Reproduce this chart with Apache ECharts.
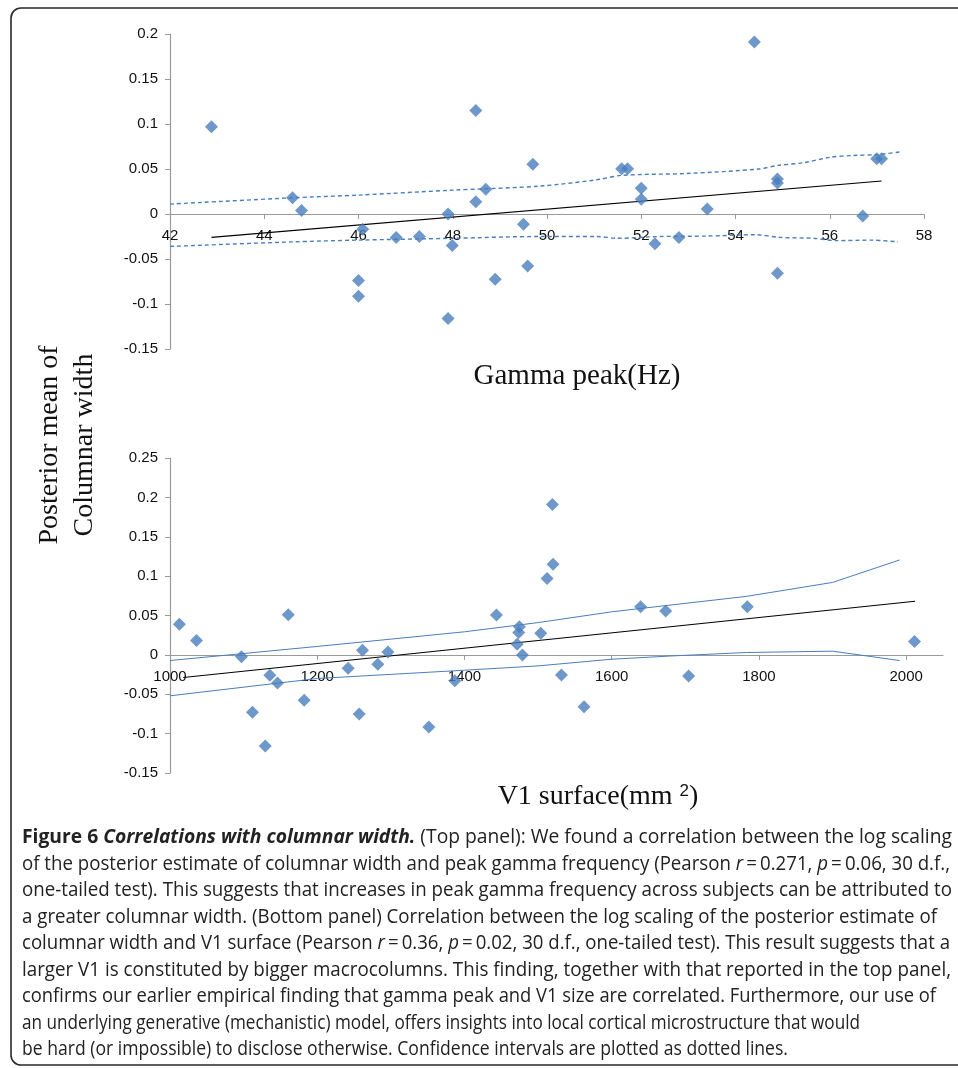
<!DOCTYPE html>
<html><head><meta charset="utf-8">
<script src="https://cdn.jsdelivr.net/npm/echarts@6/dist/echarts.min.js"></script>
<style>
html,body{margin:0;padding:0;background:#fff;}
#chart{position:absolute;left:0;top:0;width:958px;height:1068px;}
#caption{position:absolute;left:0;top:0;width:958px;height:1068px;pointer-events:none;overflow:hidden;}
.cl{position:absolute;left:22px;white-space:nowrap;font-family:"Open Sans",sans-serif;font-size:19.5px;color:#222;transform-origin:0 50%;line-height:26px;height:26px;}
</style></head>
<body>
<div id="chart"></div>
<div id="caption"></div>
<script>
// ---------- Data ----------
// Top panel: gamma peak (Hz) vs posterior mean of columnar width
var gammaPeak = [42.88,44.6,44.79,46.09,46.0,46.0,46.8,47.29,47.9,47.99,47.9,48.49,48.49,48.7,48.9,49.5,49.59,49.7,
                 51.585,51.71,52.0,52.0,52.29,52.8,53.4,54.4,54.89,54.89,54.89,56.7,56.996,57.1];
var widthTop  = [0.097,0.018,0.004,-0.017,-0.074,-0.0915,-0.026,-0.025,0.0,-0.035,-0.116,0.115,0.0137,0.0274,-0.0726,-0.0115,-0.0578,0.0552,
                 0.0504,0.0504,0.0285,0.0163,-0.033,-0.026,0.0056,0.191,0.0389,0.0344,-0.0659,-0.0022,0.0615,0.0615];
var trendTop   = [[42.88,-0.026],[57.1,0.0367]];
var ciUpperTop = [[42,0.011],[44.6,0.018],[46,0.021],[48,0.0265],[49.85,0.031],[51.05,0.038],[51.6,0.043],[52.96,0.045],
                  [54.5,0.050],[54.9,0.054],[55.45,0.057],[56,0.063],[56.5,0.065],[57,0.066],[57.5,0.069]];
var ciLowerTop = [[42,-0.036],[44.6,-0.031],[46,-0.029],[48,-0.027],[49.85,-0.025],[51.05,-0.025],[51.5,-0.027],[52.4,-0.025],
                  [53.4,-0.0245],[54.4,-0.023],[54.95,-0.026],[55.65,-0.027],[56.15,-0.0296],[56.9,-0.029],[57.45,-0.031]];

// Bottom panel: V1 surface (mm^2) vs posterior mean of columnar width
var v1Surface = [1012.7,1036,1097,1112,1129.4,1135.7,1146,1160.6,1182.3,1242,1257,1261.5,1282.3,1296,1351.6,1386.9,
                 1443.4,1471.5,1473.7,1474.6,1478.7,1503.6,1512.2,1519.5,1520.3,1531.7,1562.4,1639.3,1673.3,1704.5,1784.2,2011.3];
var widthBot  = [0.039,0.0183,-0.0025,-0.073,-0.1158,-0.026,-0.0356,0.0509,-0.0577,-0.0169,-0.075,0.006,-0.0118,0.0038,-0.0916,-0.033,
                 0.0505,0.0136,0.0285,0.0356,0.0,0.0276,0.097,0.191,0.115,-0.0254,-0.066,0.061,0.0556,-0.0267,0.061,0.017];
var trendBot   = [[1018,-0.0288],[2012,0.068]];
var ciUpperBot = [[1000,-0.0072],[1200,0.0107],[1400,0.0293],[1500,0.041],[1600,0.0547],[1783,0.0743],[1900,0.092],[1991,0.1205]];
var ciLowerBot = [[1000,-0.052],[1200,-0.030],[1400,-0.0195],[1500,-0.014],[1600,-0.0055],[1683,-0.0013],[1783,0.003],[1900,0.0047],[1991,-0.0072]];

// Axis settings / labels
var xTopRange = [42, 58, 2];
var yTopRange = [-0.15, 0.2, 0.05];
var xBotRange = [1000, 2050, 200];
var yBotRange = [-0.15, 0.25, 0.05];
var xTopTitle = 'Gamma peak(Hz)';
var yTitle = 'Posterior mean of\nColumnar width';

var captionLines = [
  '<b>Figure 6</b> <b><i>Correlations with columnar width.</i></b> (Top panel): We found a correlation between the log scaling',
  'of the posterior estimate of columnar width and peak gamma frequency (Pearson <i>r</i>\u2009=\u20090.271, <i>p</i>\u2009=\u20090.06, 30 d.f.,',
  'one-tailed test). This suggests that increases in peak gamma frequency across subjects can be attributed to',
  'a greater columnar width. (Bottom panel) Correlation between the log scaling of the posterior estimate of',
  'columnar width and V1 surface (Pearson <i>r</i>\u2009=\u20090.36, <i>p</i>\u2009=\u20090.02, 30 d.f., one-tailed test). This result suggests that a',
  'larger V1 is constituted by bigger macrocolumns. This finding, together with that reported in the top panel,',
  'confirms our earlier empirical finding that gamma peak and V1 size are correlated. Furthermore, our use of',
  'an underlying generative (mechanistic) model, offers insights into local cortical microstructure that would',
  'be hard (or impossible) to disclose otherwise. Confidence intervals are plotted as dotted lines.'
];
var captionEnds = [952,950,952,937,950,951,936,860,788];

// ---------- Chart ----------
function zip(xs, ys){ return xs.map(function(x,i){ return [x, ys[i]]; }); }
var BLUE = '#4A7EBB';
var AX = '#9a9a9a';
var labelFont = {fontFamily:'Liberation Sans, Arial, sans-serif', fontSize:15, color:'#111'};
var GRIDS = [
  {left:170, top:34, width:754, height:315},
  {left:170, top:458, width:773, height:315}
];

function xAx(idx, r){
  return {type:'value', gridIndex:idx, min:r[0], max:r[1], interval:r[2], position:'bottom', offset:0,
    splitLine:{show:false},
    axisLine:{show:true, onZero:false, lineStyle:{color:AX, width:1.2}},
    axisTick:{show:true, inside:false, length:5, lineStyle:{color:AX}},
    axisLabel:Object.assign({margin:14, showMaxLabel: idx===0, hideOverlap:false,
      formatter:function(v){ return String(v); }}, labelFont)};
}
function yAx(idx, r){
  return {type:'value', gridIndex:idx, min:r[0], max:r[1], interval:r[2],
    splitLine:{show:false},
    axisLine:{show:true, onZero:false, lineStyle:{color:AX, width:1.2}},
    axisTick:{show:true, length:5, lineStyle:{color:AX}},
    axisLabel:Object.assign({margin:12}, labelFont)};
}

var chart = echarts.init(document.getElementById('chart'), null, {renderer:'canvas'});
chart.setOption({
  animation:false,
  backgroundColor:'#fff',
  grid:GRIDS.map(function(g){ return Object.assign({containLabel:false, outerBoundsMode:'none'}, g); }),
  xAxis:[xAx(0,xTopRange), xAx(1,xBotRange)],
  yAxis:[yAx(0,yTopRange), yAx(1,yBotRange)],
  series:[
    {type:'line', xAxisIndex:0, yAxisIndex:0, data:ciUpperTop, symbol:'none', smooth:0.3,
      lineStyle:{color:BLUE, width:1.4, type:[4,3]}, z:2},
    {type:'line', xAxisIndex:0, yAxisIndex:0, data:ciLowerTop, symbol:'none', smooth:0.3,
      lineStyle:{color:BLUE, width:1.4, type:[4,3]}, z:2},
    {type:'line', xAxisIndex:0, yAxisIndex:0, data:trendTop, symbol:'none',
      lineStyle:{color:'#000', width:1.1}, z:3},
    {type:'scatter', xAxisIndex:0, yAxisIndex:0, data:zip(gammaPeak, widthTop), symbol:'diamond', symbolSize:13,
      itemStyle:{color:BLUE}, z:4},

    {type:'line', xAxisIndex:1, yAxisIndex:1, data:ciUpperBot, symbol:'none',
      lineStyle:{color:BLUE, width:1}, z:2},
    {type:'line', xAxisIndex:1, yAxisIndex:1, data:ciLowerBot, symbol:'none',
      lineStyle:{color:BLUE, width:1}, z:2},
    {type:'line', xAxisIndex:1, yAxisIndex:1, data:trendBot, symbol:'none',
      lineStyle:{color:'#000', width:1.1}, z:3},
    {type:'scatter', xAxisIndex:1, yAxisIndex:1, data:zip(v1Surface, widthBot), symbol:'diamond', symbolSize:13,
      itemStyle:{color:BLUE}, z:4}
  ],
  graphic:[
    {type:'rect', shape:{x:11, y:8, width:1000, height:1057, r:10}, style:{fill:'none', stroke:'#2a2a2a', lineWidth:1.6}, z:0, silent:true},
    {type:'text', x:577, y:376, style:{text:xTopTitle, fontFamily:'Liberation Serif, Times New Roman, serif', fontSize:29,
      fill:'#111', align:'center', verticalAlign:'middle'}},
    {type:'text', x:598, y:797, style:{text:'{a|V1 surface(mm }{s|2}{a|)}', align:'center', verticalAlign:'middle',
      rich:{a:{fontFamily:'Liberation Serif, Times New Roman, serif', fontSize:28, fill:'#111'},
            s:{fontFamily:'Liberation Sans, Arial, sans-serif', fontSize:17, fill:'#111', padding:[0,0,12,0]}}}},
    {type:'text', x:67, y:445, rotation:Math.PI/2, style:{text:yTitle, fontFamily:'Liberation Serif, Times New Roman, serif',
      fontSize:28, lineHeight:35, fill:'#111', align:'center', verticalAlign:'middle'}}
  ]
});

// Place each x axis on the y = 0 line (computed through the library's own y scale)
var offsets = [0, 1].map(function(i){
  var zeroPx = chart.convertToPixel({yAxisIndex:i}, 0);
  var bottomPx = GRIDS[i].top + GRIDS[i].height;
  return zeroPx - bottomPx;
});
chart.setOption({xAxis:[{offset:offsets[0]}, {offset:offsets[1]}]});

// ---------- Caption (real text) ----------
var cap = document.getElementById('caption');
captionLines.forEach(function(html, i){
  var d = document.createElement('div');
  d.className = 'cl';
  d.innerHTML = html;
  d.style.top = (836 + 26.5*i - 13) + 'px';
  cap.appendChild(d);
  var w = d.getBoundingClientRect().width;
  if (w > 0) d.style.transform = 'scaleX(' + ((captionEnds[i] - 22) / w) + ')';
});
</script>
</body></html>
